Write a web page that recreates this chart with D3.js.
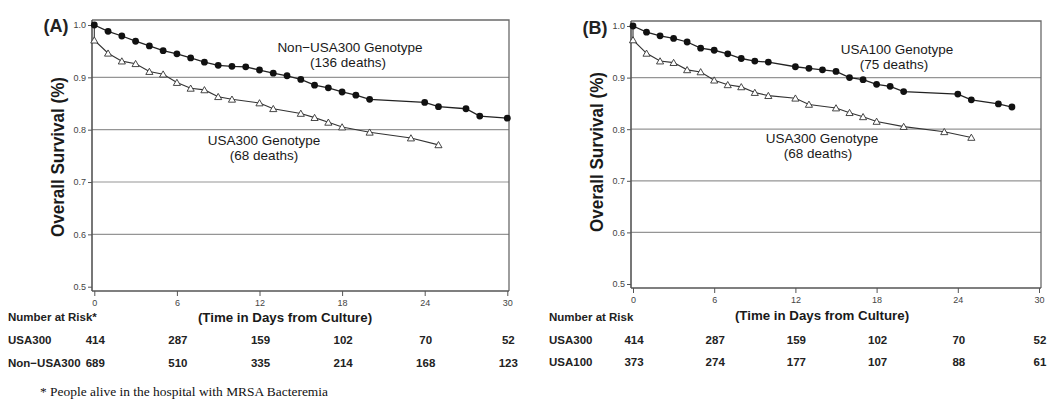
<!DOCTYPE html>
<html><head><meta charset="utf-8">
<script src="https://cdn.jsdelivr.net/npm/d3@7"></script>
<style>body{margin:0;background:#fff}svg{display:block}</style>
</head><body><svg id="c" width="1050" height="400" font-family="Liberation Sans, Arial, sans-serif"></svg>
<script>
// ---- data ----
const xTicks = [0, 6, 12, 18, 24, 30];
const yTicks = [0.5, 0.6, 0.7, 0.8, 0.9, 1.0];

const aCircleDays = [0,1,2,3,4,5,6,7,8,9,10,11,12,13,14,15,16,17,18,19,20,24,25,27,28,30];
const aCircleVals = [1.0,0.988,0.979,0.969,0.960,0.951,0.945,0.937,0.929,0.923,0.921,0.920,0.914,0.908,0.903,0.896,0.885,0.880,0.872,0.866,0.858,0.852,0.844,0.840,0.826,0.822];
const aTriDays = [0,0,1,2,3,4,5,6,7,8,9,10,12,13,15,16,17,18,20,23,25];
const aTriVals = [1.0,0.971,0.946,0.931,0.926,0.911,0.906,0.890,0.879,0.876,0.863,0.858,0.851,0.840,0.831,0.823,0.814,0.805,0.795,0.784,0.771];

const bCircleDays = [0,1,2,3,4,5,6,7,8,9,10,12,13,14,15,16,17,18,19,20,24,25,27,28];
const bCircleVals = [1.0,0.988,0.981,0.976,0.969,0.957,0.953,0.946,0.937,0.932,0.930,0.921,0.918,0.915,0.912,0.900,0.896,0.887,0.883,0.873,0.868,0.857,0.849,0.843];
const bTriDays = [0,0,1,2,3,4,5,6,7,8,9,10,12,13,15,16,17,18,20,23,25];
const bTriVals = [1.0,0.973,0.947,0.932,0.929,0.915,0.911,0.895,0.886,0.882,0.871,0.865,0.860,0.848,0.841,0.832,0.824,0.815,0.805,0.795,0.784];

const riskA_labels = ["USA300", "Non\u2212USA300"];
const riskA_usa300 = [414, 287, 159, 102, 70, 52];
const riskA_non = [689, 510, 335, 214, 168, 123];
const riskB_labels = ["USA300", "USA100"];
const riskB_usa300 = [414, 287, 159, 102, 70, 52];
const riskB_usa100 = [373, 274, 177, 107, 88, 61];

const panelLabels = ["(A)", "(B)"];
const yTitle = "Overall Survival (%)";
const xTitle = "(Time in Days from Culture)";
const annA = [["Non\u2212USA300 Genotype", "(136 deaths)"], ["USA300 Genotype", "(68 deaths)"]];
const annB = [["USA100 Genotype", "(75 deaths)"], ["USA300 Genotype", "(68 deaths)"]];
const footnote = "* People alive in the hospital with MRSA Bacteremia";

const svg = d3.select("#c");

function panel(cfg) {
  const g = svg.append("g");
  const x = d3.scaleLinear().domain([0, 30]).range(cfg.xr);
  const y = d3.scaleLinear().domain([0.5, 1.0]).range(cfg.yr);
  // gridlines
  g.selectAll("line.grid").data([0.6, 0.7, 0.8, 0.9]).join("line")
    .attr("x1", cfg.left).attr("x2", cfg.right)
    .attr("y1", d => y(d)).attr("y2", d => y(d))
    .attr("stroke", "#959595").attr("stroke-width", 1.2);
  // top and right border
  g.append("path").attr("d", `M${cfg.left},${cfg.top}H${cfg.right}V${cfg.bottom}`)
    .attr("fill", "none").attr("stroke", "#6a6a6a").attr("stroke-width", 1.3);
  // y axis
  const ya = g.append("g").attr("transform", `translate(${cfg.left},0)`)
    .call(d3.axisLeft(y).tickValues(yTicks).tickFormat(d3.format(".1f")).tickSize(4).tickPadding(2));
  ya.attr("font-family", null);
  ya.select(".domain").attr("d", `M0,${cfg.top}V${cfg.bottom}`).attr("stroke", "#555").attr("stroke-width", 1.6);
  ya.selectAll(".tick line").attr("stroke", "#555");
  ya.selectAll("text").attr("font-size", 9).attr("fill", "#444");
  // x axis
  const xa = g.append("g").attr("transform", `translate(0,${cfg.bottom})`)
    .call(d3.axisBottom(x).tickValues(xTicks).tickSize(5).tickPadding(4));
  xa.attr("font-family", null);
  xa.select(".domain").attr("d", `M${cfg.left},0H${cfg.right}`).attr("stroke", "#555").attr("stroke-width", 1.6);
  xa.selectAll(".tick line").attr("stroke", "#555");
  xa.selectAll("text").attr("font-size", 9).attr("fill", "#444");

  const line = d3.line().x(d => x(d[0])).y(d => y(d[1]));
  const tri = d3.zip(cfg.triDays, cfg.triVals);
  const cir = d3.zip(cfg.cirDays, cfg.cirVals);
  g.append("path").attr("d", line(tri)).attr("fill", "none").attr("stroke", "#333").attr("stroke-width", 1.1);
  g.append("path").attr("d", line(cir)).attr("fill", "none").attr("stroke", "#222").attr("stroke-width", 1.3);
  g.selectAll("path.tri").data(tri.slice(1)).join("path")
    .attr("transform", d => `translate(${x(d[0])},${y(d[1]) + 0.8})`)
    .attr("d", d3.symbol(d3.symbolTriangle, 22))
    .attr("fill", "#fff").attr("stroke", "#333").attr("stroke-width", 0.9);
  g.selectAll("circle.cir").data(cir).join("circle")
    .attr("cx", d => x(d[0])).attr("cy", d => y(d[1])).attr("r", 3.4).attr("fill", "#111");

  // panel label
  g.append("text").attr("x", cfg.lab[0]).attr("y", cfg.lab[1]).attr("text-anchor", "middle")
    .attr("font-size", 18).attr("font-weight", "bold").attr("fill", "#222").text(cfg.label);
  // y title
  g.append("text").attr("transform", `translate(${cfg.yt[0]},${cfg.yt[1]}) rotate(-90)`)
    .attr("text-anchor", "middle").attr("font-size", 17.5).attr("font-weight", "bold").attr("fill", "#1a1a1a")
    .attr("textLength", 160).attr("lengthAdjust", "spacingAndGlyphs").text(yTitle);
  // annotations
  cfg.ann.forEach((a, i) => {
    a.forEach((t, j) => {
      g.append("text").attr("x", cfg.annPos[i][j][0]).attr("y", cfg.annPos[i][j][1])
        .attr("text-anchor", "middle").attr("font-size", 13.5).attr("fill", "#1a1a1a").text(t);
    });
  });
  // x title
  g.append("text").attr("x", cfg.xt[0]).attr("y", cfg.xt[1]).attr("text-anchor", "middle")
    .attr("font-size", 13.3).attr("font-weight", "bold").attr("fill", "#1a1a1a").text(xTitle);
  // risk table
  g.append("text").attr("x", cfg.tabX).attr("y", cfg.riskHeadY).attr("font-size", 11.5)
    .attr("font-weight", "bold").attr("fill", "#222").text(cfg.riskHead);
  cfg.rows.forEach((r, i) => {
    g.append("text").attr("x", cfg.tabX).attr("y", cfg.rowY[i]).attr("font-size", 11.5)
      .attr("font-weight", "bold").attr("fill", "#222").text(cfg.rowLabels[i]);
    g.selectAll(null).data(d3.zip(xTicks, r)).join("text")
      .attr("x", d => x(d[0]) + 1).attr("y", cfg.rowY[i]).attr("text-anchor", "middle")
      .attr("font-size", 11.5).attr("font-weight", "bold").attr("fill", "#222").text(d => d[1]);
  });
}

panel({
  left: 92, right: 509, top: 20, bottom: 291, xr: [94.3, 507.3], yr: [286.7, 25],
  cirDays: aCircleDays, cirVals: aCircleVals, triDays: aTriDays, triVals: aTriVals,
  label: panelLabels[0], lab: [56, 32], yt: [64, 157],
  ann: annA, annPos: [[[350, 52], [348, 67]], [[264, 145], [264, 160]]],
  xt: [285, 322], tabX: 8, riskHead: "Number at Risk*", riskHeadY: 321,
  rows: [riskA_usa300, riskA_non], rowLabels: riskA_labels, rowY: [344, 367]
});
panel({
  left: 631, right: 1041, top: 21, bottom: 288, xr: [633, 1039], yr: [284, 26],
  cirDays: bCircleDays, cirVals: bCircleVals, triDays: bTriDays, triVals: bTriVals,
  label: panelLabels[1], lab: [595, 34], yt: [603, 152],
  ann: annB, annPos: [[[897, 54], [894, 69]], [[822, 143], [818, 158]]],
  xt: [822, 320], tabX: 549, riskHead: "Number at Risk", riskHeadY: 321,
  rows: [riskB_usa300, riskB_usa100], rowLabels: riskB_labels, rowY: [344, 366]
});

svg.append("text").attr("x", 40).attr("y", 396)
  .style("font-family", "'Liberation Serif', 'Times New Roman', serif")
  .attr("font-size", 13).attr("fill", "#111").attr("textLength", 288).attr("lengthAdjust", "spacingAndGlyphs")
  .text(footnote);
</script></body></html>
